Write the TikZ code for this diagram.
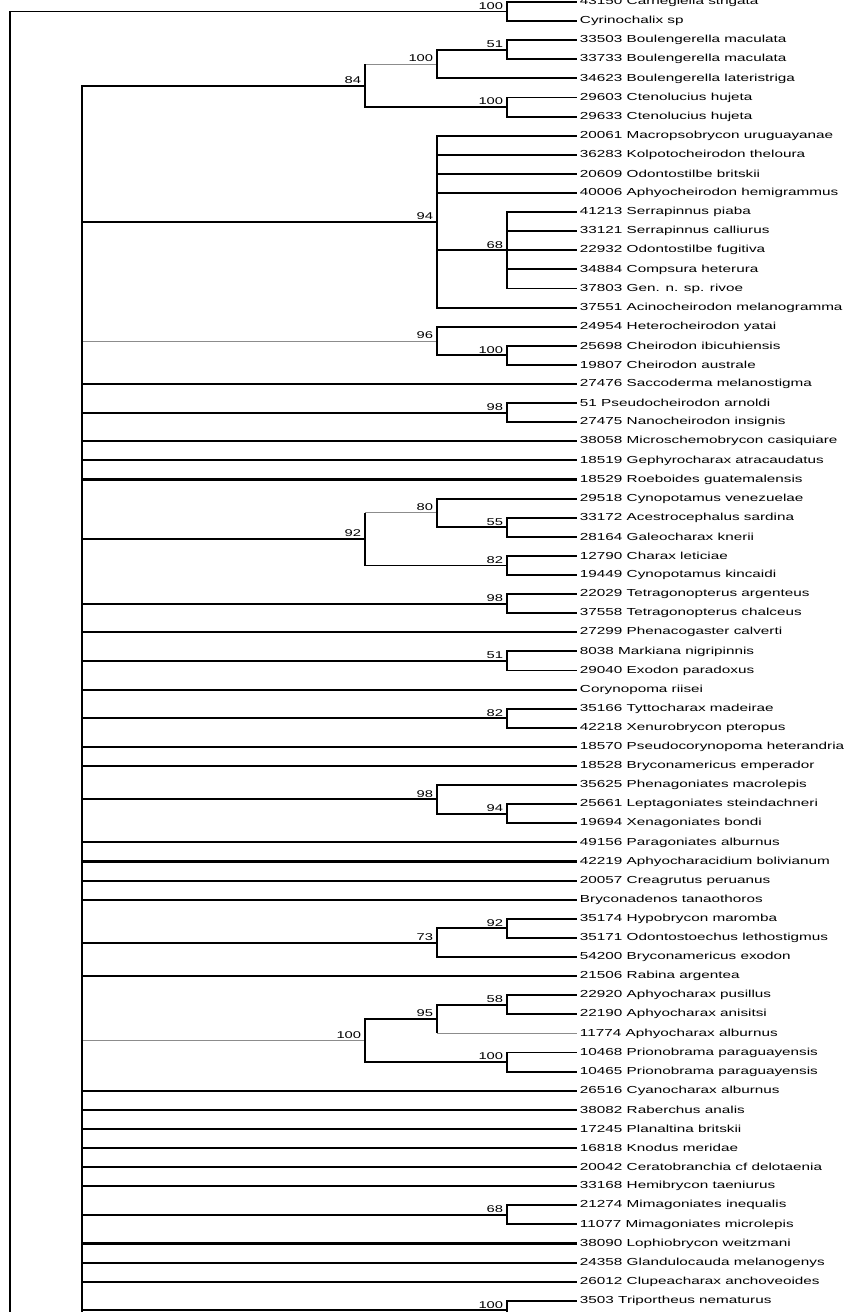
\documentclass[tikz,border=0pt]{standalone}
\usepackage{fontspec}
\newfontfamily\treefont[FakeStretch=1.5]{Liberation Sans}
\newcommand{\rowy}[1]{2+(#1-1)*19.1}
\tikzset{
    branch/.style={line width=1.05pt, black},
    faint/.style={line width=0.6pt, black!45},
    taxon/.style={anchor=west, inner sep=1.5pt, font=\treefont\fontsize{5.8}{6}\selectfont},
    support/.style={anchor=south east, inner sep=1pt, font=\treefont\fontsize{5.6}{6}\selectfont},
}

\begin{document}
\begin{tikzpicture}[x=0.02cm, y=-0.02cm]
    \useasboundingbox (0,0) rectangle (850,1312);
    \clip (0,0) rectangle (850,1312);

    % Taxa
    \foreach \taxname [count=\i] in {43150 Carnegiella strigata, Cyrinochalix sp,
        33503 Boulengerella maculata, 33733 Boulengerella maculata, 34623 Boulengerella lateristriga,
        29603 Ctenolucius hujeta, 29633 Ctenolucius hujeta, 20061 Macropsobrycon uruguayanae,
        36283 Kolpotocheirodon theloura, 20609 Odontostilbe britskii, 40006 Aphyocheirodon hemigrammus,
        41213 Serrapinnus piaba, 33121 Serrapinnus calliurus, 22932 Odontostilbe fugitiva,
        34884 Compsura heterura, 37803 Gen. n. sp. rivoe, 37551 Acinocheirodon melanogramma,
        24954 Heterocheirodon yatai, 25698 Cheirodon ibicuhiensis, 19807 Cheirodon australe,
        27476 Saccoderma melanostigma, 51 Pseudocheirodon arnoldi, 27475 Nanocheirodon insignis,
        38058 Microschemobrycon casiquiare, 18519 Gephyrocharax atracaudatus, 18529 Roeboides guatemalensis,
        29518 Cynopotamus venezuelae, 33172 Acestrocephalus sardina, 28164 Galeocharax knerii,
        12790 Charax leticiae, 19449 Cynopotamus kincaidi, 22029 Tetragonopterus argenteus,
        37558 Tetragonopterus chalceus, 27299 Phenacogaster calverti, 8038 Markiana nigripinnis,
        29040 Exodon paradoxus, Corynopoma riisei, 35166 Tyttocharax madeirae,
        42218 Xenurobrycon pteropus, 18570 Pseudocorynopoma heterandria, 18528 Bryconamericus emperador,
        35625 Phenagoniates macrolepis, 25661 Leptagoniates steindachneri, 19694 Xenagoniates bondi,
        49156 Paragoniates alburnus, 42219 Aphyocharacidium bolivianum, 20057 Creagrutus peruanus,
        Bryconadenos tanaothoros, 35174 Hypobrycon maromba, 35171 Odontostoechus lethostigmus,
        54200 Bryconamericus exodon, 21506 Rabina argentea, 22920 Aphyocharax pusillus,
        22190 Aphyocharax anisitsi, 11774 Aphyocharax alburnus, 10468 Prionobrama paraguayensis,
        10465 Prionobrama paraguayensis, 26516 Cyanocharax alburnus, 38082 Raberchus analis,
        17245 Planaltina britskii, 16818 Knodus meridae, 20042 Ceratobranchia cf delotaenia,
        33168 Hemibrycon taeniurus, 21274 Mimagoniates inequalis, 11077 Mimagoniates microlepis,
        38090 Lophiobrycon weitzmani, 24358 Glandulocauda melanogenys, 26012 Clupeacharax anchoveoides,
        3503 Triportheus nematurus} {
        \node[taxon] (l\i) at (577,{\rowy{\i}}) {\taxname};
    }

    % Internal nodes (x level / row)
    \foreach \nd/\x/\r in {ncarn/507/1.5, nb51/507/3.5, nb100/437/4.25, ncten/507/6.5, n84/365/5.375,
        n68/507/14, n94/437/12.5, ncheir/507/19.5, n96/437/18.75, npseudo/507/22.5,
        n55/507/28.5, n80/437/27.75, ncharax/507/30.5, n92/365/29.125, n98/507/32.5,
        n51/507/35.5, n82/507/38.5, n94b/507/43.5, n98b/437/42.75, n92b/507/49.5,
        n73/437/50.25, n58/507/53.5, n95/437/54.25, nprion/507/56.5, n100a/365/55.375,
        n68b/507/64.5, ntrip/507/69.5} {
        \coordinate (\nd) at (\x,{\rowy{\r}});
    }
    \coordinate (root) at (10,1312);
    \coordinate (spine) at (82,1312);

    % Faint stems
    \draw[faint] (n84 |- nb100) -- (nb100);
    \draw[faint] (spine |- n96) -- (n96);
    \draw[faint] (n92 |- n80) -- (n80);
    \draw[faint] (spine |- n100a) -- (n100a);
    \draw[faint] (n95 |- l55.west) -- (l55.west);
    \draw[branch] (n84) -- (n84 |- nb100);
    \draw[branch] (n92) -- (n92 |- n80);
    \draw[branch] (n95) -- (n95 |- l55.west);

    % Clades
    \foreach \p/\c in {ncarn/l1.west, ncarn/l2.west, nb51/l3.west, nb51/l4.west, nb100/nb51, nb100/l5.west,
        ncten/l6.west, ncten/l7.west, n84/ncten,
        n68/l12.west, n68/l13.west, n68/l14.west, n68/l15.west, n68/l16.west,
        n94/l8.west, n94/l9.west, n94/l10.west, n94/l11.west, n94/n68, n94/l17.west,
        ncheir/l19.west, ncheir/l20.west, n96/l18.west, n96/ncheir, npseudo/l22.west, npseudo/l23.west,
        n55/l28.west, n55/l29.west, n80/l27.west, n80/n55, ncharax/l30.west, ncharax/l31.west, n92/ncharax,
        n98/l32.west, n98/l33.west, n51/l35.west, n51/l36.west, n82/l38.west, n82/l39.west,
        n94b/l43.west, n94b/l44.west, n98b/l42.west, n98b/n94b, n92b/l49.west, n92b/l50.west,
        n73/n92b, n73/l51.west, n58/l53.west, n58/l54.west, n95/n58, nprion/l56.west, nprion/l57.west,
        n100a/n95, n100a/nprion, n68b/l64.west, n68b/l65.west, ntrip/l69.west} {
        \draw[branch] (\p) |- (\c);
    }
    \draw[branch] (ntrip) -- (ntrip |- root);

    % Backbone
    \draw[branch] (root) |- (ncarn);
    \foreach \c in {n84, n94, l21.west, npseudo, l24.west, l25.west, l26.west, n92, n98, l34.west,
        n51, l37.west, n82, l40.west, l41.west, n98b, l45.west, l46.west, l47.west, l48.west, n73,
        l52.west, l58.west, l59.west, l60.west, l61.west, l62.west, l63.west, n68b,
        l66.west, l67.west, l68.west, ntrip} {
        \draw[branch, line width=1.2pt] (spine) |- (\c);
    }

    % Support values
    \foreach \nd/\val in {ncarn/100, nb51/51, nb100/100, ncten/100, n84/84, n68/68, n94/94,
        ncheir/100, n96/96, npseudo/98, n55/55, n80/80, ncharax/82, n92/92, n98/98, n51/51,
        n82/82, n94b/94, n98b/98, n92b/92, n73/73, n58/58, n95/95, nprion/100, n100a/100,
        n68b/68, ntrip/100} {
        \node[support] (s\nd) at ([xshift=-1pt]\nd) {\val};
    }
\end{tikzpicture}
\end{document}
